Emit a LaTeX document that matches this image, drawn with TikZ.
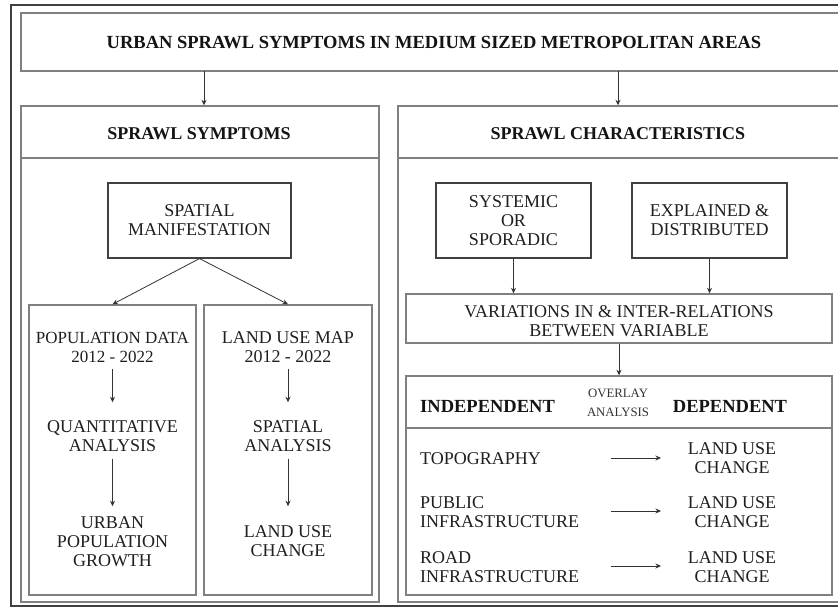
\documentclass[tikz,border=0pt]{standalone}
\usepackage{fontspec}
\setmainfont{Liberation Serif}
\usetikzlibrary{arrows.meta}
\begin{document}
\begin{tikzpicture}[x=1pt,y=-1pt,
  frame/.style={draw=black!50, line width=1.4pt, inner sep=0pt},
  inbox/.style={draw=black!75, line width=1.1pt, inner sep=0pt, align=center, text=black!88, font=\fontsize{18}{19}\selectfont},
  arr/.style={draw=black!80, line width=0.8pt, -{Stealth[length=5.5pt,width=5pt]}},
  txt/.style={align=center, inner sep=0pt, text=black!88, font=\fontsize{18}{19}\selectfont},
  ltxt/.style={align=left, inner sep=0pt, text=black!88, font=\fontsize{18}{19}\selectfont},
  btxt/.style={align=center, inner sep=0pt, text=black!92, font=\fontsize{18}{20}\selectfont\bfseries},
  stxt/.style={align=center, inner sep=0pt, text=black!80, font=\fontsize{12.8}{19}\selectfont}
]
\useasboundingbox (0,0) rectangle (838,608);
\clip (0,0) rectangle (838,608);
\fill[white] (0,0) rectangle (838,608);
% outer frame
\draw[draw=black!75, line width=1.4pt] (11,5) rectangle (850,606);

% title
\node[frame, minimum width=824pt, minimum height=58pt] (title) at (433,42) {};
\node[btxt, font=\fontsize{18.5}{20}\selectfont\bfseries] (titletxt) at (434,43) {URBAN SPRAWL SYMPTOMS IN MEDIUM SIZED METROPOLITAN AREAS};

% panels
\node[frame, minimum width=358pt, minimum height=496pt] (lp) at (200,354) {};
\node[frame, minimum width=447pt, minimum height=496pt] (rp) at (621.5,354) {};
\coordinate (hl) at (0,158);
\draw[frame] (lp.west |- hl) -- (lp.east |- hl);
\draw[frame] (rp.west |- hl) -- (rp.east |- hl);
\node[btxt] (lph) at (199,134) {SPRAWL SYMPTOMS};
\node[btxt] (rph) at (618,134) {SPRAWL CHARACTERISTICS};

\coordinate (t1) at (204,71);
\coordinate (t2) at (618,71);
\draw[arr] (t1) -- (t1 |- lp.north);
\draw[arr] (t2) -- (t2 |- rp.north);

% left side
\node[inbox, minimum width=183pt, minimum height=75pt] (sm) at (199.5,220.5) {SPATIAL\\MANIFESTATION};
\node[frame, minimum width=167pt, minimum height=290pt] (b1) at (112.5,450) {};
\node[frame, minimum width=168pt, minimum height=290pt] (b2) at (288,450) {};
\draw[arr] (sm.south) -- (b1.north);
\draw[arr] (sm.south) -- (b2.north);

\node[txt, font=\fontsize{17}{19}\selectfont] (pop) at (112.5,347) {POPULATION DATA\\2012 - 2022};
\node[txt] (qa) at (112.5,436) {QUANTITATIVE\\ANALYSIS};
\node[txt] (upg) at (112.5,541.5) {URBAN\\POPULATION\\GROWTH};
\node[txt] (lum) at (288,347) {LAND USE MAP\\2012 - 2022};
\node[txt] (sa) at (288,436) {SPATIAL\\ANALYSIS};
\node[txt] (luc) at (288,541) {LAND USE\\CHANGE};

\draw[arr] ([yshift=-7pt]pop.south) -- ([yshift=18pt]qa.north);
\draw[arr] ([yshift=-7pt]qa.south) -- ([yshift=10pt]upg.north);
\draw[arr] ([yshift=-7pt]lum.south |- pop.south) -- ([yshift=18pt]sa.north);
\draw[arr] ([yshift=-7pt]sa.south) -- ([yshift=10pt]upg.north -| sa.north);

% right side
\node[inbox, minimum width=155pt, minimum height=75pt] (sys) at (513.5,220.5) {SYSTEMIC\\OR\\SPORADIC};
\node[inbox, minimum width=155pt, minimum height=75pt] (exp) at (709.5,220.5) {EXPLAINED \&\\DISTRIBUTED};
\node[frame, minimum width=426pt, minimum height=49pt] (var) at (619,318.5) {};
\node[txt] (vartxt) at (619,321) {VARIATIONS IN \& INTER-RELATIONS\\BETWEEN VARIABLE};
\node[frame, minimum width=426pt, minimum height=219pt] (tab) at (619,485.5) {};
\coordinate (tl) at (0,428);
\draw[frame] (tab.west |- tl) -- (tab.east |- tl);

\draw[arr] (sys.south) -- (sys.south |- var.north);
\draw[arr] (exp.south) -- (exp.south |- var.north);
\draw[arr] (var.south) -- (var.south |- tab.north);

\node[btxt, anchor=west, font=\fontsize{18.5}{20}\selectfont\bfseries] (ind) at (420,406) {INDEPENDENT};
\node[stxt] (ov) at (618,403) {OVERLAY\\ANALYSIS};
\node[btxt, font=\fontsize{18.5}{20}\selectfont\bfseries] (dep) at (730,406) {DEPENDENT};

\node[ltxt, anchor=west] (topo) at (420,459) {TOPOGRAPHY};
\node[ltxt, anchor=west] (pub) at (420,512) {PUBLIC\\INFRASTRUCTURE};
\node[ltxt, anchor=west] (road) at (420,567) {ROAD\\INFRASTRUCTURE};
\node[txt] (lc1) at (732,458) {LAND USE\\CHANGE};
\node[txt] (lc2) at (732,512.5) {LAND USE\\CHANGE};
\node[txt] (lc3) at (732,567) {LAND USE\\CHANGE};

\coordinate (s1) at (611,458); \coordinate (e1) at (661,458);
\coordinate (s2) at (611,511); \coordinate (e2) at (661,511);
\coordinate (s3) at (611,566); \coordinate (e3) at (661,566);
\draw[arr] (s1) -- (e1);
\draw[arr] (s2) -- (e2);
\draw[arr] (s3) -- (e3);
\end{tikzpicture}
\end{document}
